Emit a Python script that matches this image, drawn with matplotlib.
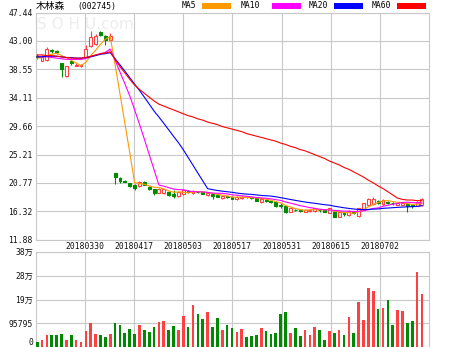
import matplotlib
matplotlib.use('Agg')
import matplotlib.pyplot as plt
from matplotlib.patches import Rectangle

plt.rcParams['font.family'] = ['DejaVu Sans Mono', 'Noto Sans CJK SC']

# daily candles, 木林森 (002745)
opens = [40.7, 39.9, 40.0, 41.6, 41.4, 39.5, 37.5, 39.8, 39.1, 39.0,
         40.4, 42.2, 42.5, 44.4, 43.8, 43.1, 22.3, 21.5, 21.1, 20.7,
         20.5, 20.3, 21.0, 20.2, 19.8, 19.25, 19.2, 19.4, 19.1, 18.7,
         19.0, 19.5, 19.2, 19.4, 19.3, 18.9, 19.1, 18.9, 18.4, 18.7,
         18.6, 18.2, 18.4, 18.6, 18.5, 18.4, 17.8, 18.1, 17.9, 17.8,
         17.4, 17.1, 16.3, 16.6, 16.5, 16.3, 16.4, 16.4, 16.6, 16.5,
         16.1, 16.3, 15.5, 16.1, 15.7, 16.3, 15.6, 16.6, 17.3, 17.5,
         18.0, 17.5, 17.8, 17.7, 17.4, 17.4, 17.5, 17.3, 17.2, 17.3]
closes = [40.4, 40.6, 41.7, 41.4, 41.2, 38.6, 39.0, 39.6, 39.3, 39.2,
          41.8, 43.6, 43.8, 43.9, 43.2, 43.8, 21.7, 21.1, 21.0, 20.3,
          20.0, 21.0, 20.5, 19.8, 19.2, 19.9, 19.8, 18.9, 18.8, 19.4,
          19.7, 19.3, 19.5, 19.3, 19.1, 19.2, 18.7, 18.6, 18.7, 18.5,
          18.3, 18.6, 18.6, 18.5, 18.4, 18.0, 18.3, 17.9, 17.8, 17.2,
          17.1, 16.2, 16.8, 16.5, 16.4, 16.6, 16.6, 16.8, 16.5, 16.3,
          16.8, 15.5, 16.2, 15.9, 16.4, 16.1, 16.8, 17.6, 18.3, 18.2,
          17.7, 18.1, 17.7, 17.6, 17.6, 17.6, 17.2, 17.1, 17.8, 18.2]
highs = [40.9, 40.8, 42.1, 41.8, 41.5, 39.6, 39.1, 40.0, 39.6, 39.4,
         42.3, 44.6, 44.0, 44.6, 43.9, 44.2, 22.4, 21.7, 21.3, 20.8,
         20.6, 21.1, 21.1, 20.3, 19.9, 20.0, 19.9, 19.5, 19.6, 19.5,
         19.8, 19.6, 19.6, 19.5, 19.4, 19.3, 19.2, 19.0, 18.8, 18.8,
         18.7, 18.7, 18.7, 18.7, 18.6, 18.5, 18.4, 18.2, 18.0, 17.9,
         17.6, 17.2, 16.9, 16.7, 16.6, 16.7, 16.7, 16.9, 16.7, 16.6,
         16.9, 16.4, 16.3, 16.2, 16.5, 16.4, 16.9, 17.7, 18.4, 18.5,
         18.1, 18.2, 17.9, 17.8, 17.7, 17.7, 17.6, 17.4, 17.9, 18.4]
lows = [40.2, 39.8, 39.9, 41.1, 40.9, 37.4, 37.4, 39.2, 39.0, 38.9,
        40.3, 42.1, 42.4, 43.7, 42.4, 43.0, 20.6, 20.7, 20.9, 20.1,
        19.6, 20.2, 20.4, 19.6, 18.9, 19.2, 19.1, 18.8, 18.4, 18.6,
        18.9, 19.2, 19.1, 19.2, 19.0, 18.8, 18.3, 18.5, 18.3, 18.4,
        18.2, 18.1, 18.3, 18.4, 18.2, 17.9, 17.7, 17.8, 17.6, 17.0,
        16.9, 16.0, 16.2, 16.4, 16.3, 16.2, 16.3, 16.3, 16.3, 16.2,
        16.0, 15.4, 15.4, 15.6, 15.6, 15.9, 15.5, 16.5, 17.2, 17.4,
        17.5, 17.4, 17.5, 17.4, 17.3, 17.3, 16.3, 16.9, 17.1, 17.2]
volumes = [22, 29, 48, 48, 48, 52, 29, 48, 29, 22,
           66, 98, 53, 48, 40, 53, 96, 90, 56, 73,
           53, 89, 70, 61, 80, 101, 105, 68, 84, 69,
           125, 81, 169, 134, 114, 140, 81, 117, 68, 88,
           77, 62, 73, 42, 45, 48, 77, 65, 53, 56,
           132, 141, 58, 77, 45, 68, 49, 80, 68, 29,
           65, 56, 69, 49, 120, 56, 180, 110, 236, 227,
           152, 157, 190, 88, 150, 144, 96, 106, 300, 214]  # thousand shares

ma5 = [40.3, 40.4, 40.7, 40.9, 41.06, 40.7, 40.38, 39.96, 39.54, 39.14,
       39.66, 40.7, 41.54, 42.46, 43.26, 43.66, 39.3, 34.74, 30.16, 25.58,
       20.82, 20.68, 20.56, 20.32, 20.1, 20.08, 19.84, 19.52, 19.32, 19.36,
       19.32, 19.22, 19.34, 19.44, 19.38, 19.28, 19.16, 18.98, 18.86, 18.74,
       18.56, 18.54, 18.54, 18.5, 18.48, 18.42, 18.36, 18.22, 18.08, 17.84,
       17.66, 17.24, 17.02, 16.76, 16.6, 16.5, 16.58, 16.58, 16.58, 16.56,
       16.6, 16.38, 16.26, 16.14, 16.16, 16.02, 16.28, 16.56, 17.04, 17.4,
       17.72, 17.98, 18.0, 17.86, 17.74, 17.72, 17.54, 17.42, 17.46, 17.58]
ma10 = [40.6, 40.5, 40.5, 40.4, 40.3, 40.2, 40.1, 40.1, 40.1, 40.1,
        40.24, 40.54, 40.75, 41.0, 41.2, 41.72, 39.99, 38.14, 36.31, 34.42,
        32.24, 29.98, 27.65, 25.24, 22.84, 20.45, 20.26, 20.04, 19.82, 19.73,
        19.7, 19.53, 19.43, 19.38, 19.37, 19.3, 19.19, 19.16, 19.15, 19.06,
        18.92, 18.85, 18.76, 18.68, 18.61, 18.49, 18.45, 18.38, 18.29, 18.16,
        18.04, 17.8, 17.62, 17.42, 17.22, 17.08, 16.91, 16.8, 16.67, 16.58,
        16.55, 16.48, 16.42, 16.36, 16.36, 16.31, 16.33, 16.41, 16.59, 16.78,
        16.87, 17.13, 17.28, 17.45, 17.57, 17.72, 17.76, 17.71, 17.66, 17.66]
ma20 = [40.5, 40.5, 40.6, 40.6, 40.6, 40.5, 40.4, 40.4, 40.3, 40.3,
        40.4, 40.5, 40.7, 40.9, 41.0, 41.16, 40.2, 39.25, 38.27, 37.26,
        36.24, 35.26, 34.2, 33.12, 32.02, 31.09, 30.1, 29.09, 28.07, 27.08,
        25.97, 24.76, 23.54, 22.31, 21.1, 19.88, 19.73, 19.6, 19.49, 19.4,
        19.31, 19.19, 19.1, 19.03, 18.99, 18.9, 18.82, 18.77, 18.72, 18.61,
        18.48, 18.33, 18.19, 18.05, 17.92, 17.79, 17.68, 17.59, 17.48, 17.37,
        17.3, 17.14, 17.02, 16.89, 16.79, 16.7, 16.62, 16.61, 16.63, 16.68,
        16.71, 16.8, 16.85, 16.9, 16.96, 17.0, 17.04, 17.06, 17.12, 17.2]
ma60 = [40.8, 40.8, 40.7, 40.7, 40.6, 40.5, 40.4, 40.3, 40.3, 40.3,
        40.4, 40.6, 40.8, 41.0, 41.1, 41.3, 40.1, 39.0, 38.0, 37.0,
        36.1, 35.4, 34.8, 34.2, 33.6, 33.1, 32.8, 32.5, 32.2, 31.9,
        31.6, 31.3, 31.1, 30.8, 30.6, 30.3, 30.1, 29.9, 29.6, 29.4,
        29.2, 29.0, 28.8, 28.5, 28.3, 28.1, 27.9, 27.7, 27.5, 27.3,
        27.0, 26.8, 26.5, 26.3, 26.0, 25.8, 25.5, 25.2, 24.9, 24.6,
        24.2, 23.9, 23.6, 23.2, 22.9, 22.5, 22.1, 21.7, 21.2, 20.8,
        20.3, 19.9, 19.4, 18.9, 18.4, 18.2, 18.1, 18.1, 18.0, 18.0]

price_labels = ['47.44', '43.00', '38.55', '34.11', '29.66', '25.21', '20.77', '16.32', '11.88']
vol_ticks = [0, 95795, 191590, 287385, 383180]
vol_labels = ['0', '95795', '19万', '28万', '38万']
date_labels = ['20180330', '20180417', '20180503', '20180517', '20180531', '20180615', '20180702']

ma_names = ['MA5', 'MA10', 'MA20', 'MA60']
ma_colors = ['#ff9900', '#ff00ff', '#0000ff', '#ff0000']
UP = '#ff4040'
DOWN = '#008a00'
GRID = '#c8c8c8'

W, H = 474, 347
fig = plt.figure(figsize=(W / 100, H / 100), dpi=100)


def box(x0, y0, x1, y1):
    return [x0 / W, 1 - y1 / H, (x1 - x0) / W, (y1 - y0) / H]


ax = fig.add_axes(box(35.7, 12.5, 429, 239.8))
axv = fig.add_axes(box(35.7, 251.7, 429, 347.3))

n = len(closes)
x = list(range(n))
xmin, xmax = -0.3, 80.45
cols = [xmin + k * (xmax - xmin) / 8 for k in range(1, 8)]

up = [c >= o for o, c in zip(opens, closes)]
colors = [UP if u else DOWN for u in up]

# candles
ax.vlines(x, lows, highs, colors=colors, lw=0.8, zorder=2)
bottoms = [min(o, c) for o, c in zip(opens, closes)]
heights = [max(abs(c - o), 0.05) for o, c in zip(opens, closes)]
ax.bar(x, heights, bottom=bottoms, width=0.6,
       facecolor=['white' if u else DOWN for u in up],
       edgecolor=colors, linewidth=0.8, zorder=3)

for ma, col in zip([ma5, ma10, ma20, ma60], ma_colors):
    ax.plot(x, ma, color=col, lw=0.8, zorder=4)

ax.set_xlim(xmin, xmax)
ax.set_ylim(11.88, 47.44)
ax.set_yticks([float(s) for s in price_labels])
ax.set_yticklabels(price_labels)
ax.set_xticks(cols)
ax.set_xticklabels(date_labels)

# volume
axv.bar(x, [v * 1000 for v in volumes], width=0.55, color=colors, zorder=3)
axv.set_xlim(xmin, xmax)
axv.set_ylim(0, 383180)
axv.set_yticks(vol_ticks)
axv.set_yticklabels(vol_labels)
axv.set_xticks(cols)
axv.set_xticklabels([])
axv.get_yticklabels()[0].set_va('bottom')

for a in (ax, axv):
    a.grid(True, color=GRID, lw=0.8, zorder=0)
    a.set_axisbelow(True)
    a.tick_params(length=0, labelsize=5.8, colors='#111111', pad=2)
    for s in a.spines.values():
        s.set_color(GRID)
        s.set_linewidth(0.8)
ax.tick_params(axis='x', pad=1.5)

ax.text(0.004, 0.982, 'S O H U.com', transform=ax.transAxes, ha='left', va='top',
        fontsize=11, color='#ededed', family='DejaVu Sans', zorder=1)

# header
fig.text(36 / W, 1 - 6.5 / H, '木林森', fontsize=7, family=['Noto Sans CJK SC'],
         va='center', ha='left')
fig.text(77 / W, 1 - 6.5 / H, '(002745)', fontsize=5.8, va='center', ha='left')
legend_pos = [(182, 202), (241, 272), (309, 334), (372, 397)]
for name, col, (tx, sx) in zip(ma_names, ma_colors, legend_pos):
    fig.text(tx / W, 1 - 6 / H, name, fontsize=5.8, va='center', ha='left')
    fig.patches.append(Rectangle((sx / W, 1 - 9.3 / H), 28.5 / W, 6.6 / H,
                                 transform=fig.transFigure, facecolor=col,
                                 edgecolor='none'))

fig.savefig('out.png', dpi=100)
